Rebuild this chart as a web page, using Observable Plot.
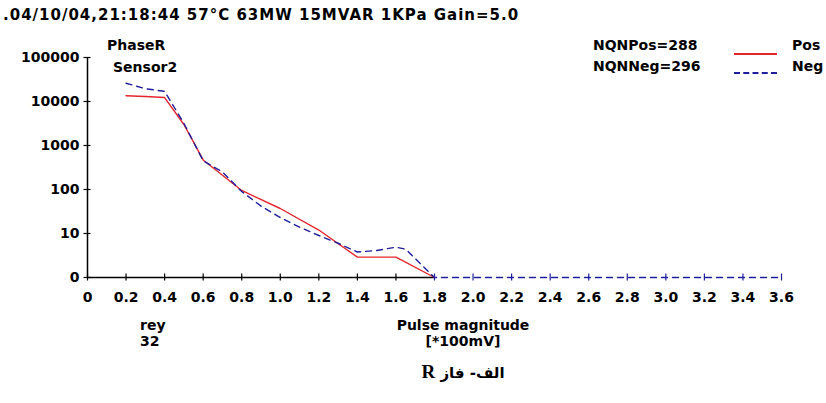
<!DOCTYPE html>
<html>
<head>
<meta charset="utf-8">
<script src="https://cdn.jsdelivr.net/npm/d3@7"></script>
<script src="https://cdn.jsdelivr.net/npm/@observablehq/plot@0.6"></script>
<style>
  html, body { margin: 0; padding: 0; background: #fff; }
  #wrap { position: relative; width: 826px; height: 403px; overflow: hidden; }
  #wrap svg { position: absolute; left: 0; top: 0; }
  .t { position: absolute; font-family: "DejaVu Sans", sans-serif; font-weight: bold; font-size: 14px; line-height: 1; white-space: nowrap; color: #000; }
  .c { transform: translateX(-50%); }
</style>
</head>
<body>
<div id="wrap"></div>
<script>
// ---- data ----
const titleText = ".04/10/04,21:18:44 57°C 63MW 15MVAR 1KPa Gain=5.0";
const phaseLabel = "PhaseR";
const sensorLabel = "Sensor2";
const nqnPos = "NQNPos=288";
const nqnNeg = "NQNNeg=296";
const seriesNames = ["Pos", "Neg"];
const xLabel1 = "Pulse magnitude";
const xLabel2 = "[*100mV]";
const cornerLabel1 = "rey";
const cornerLabel2 = "32";
const captionText = "الف- فاز ";
const captionLetter = "R";

const posX = [0.2, 0.3, 0.4, 0.5, 0.6, 0.8, 1.0, 1.2, 1.4, 1.6, 1.8];
const posY = [13500, 13000, 12300, 3000, 470, 95, 37, 12, 2.9, 2.9, 0];

const negX = [0.2, 0.3, 0.4, 0.5, 0.6, 0.7, 0.8, 0.9, 1.0, 1.1, 1.2, 1.3, 1.4, 1.5, 1.6, 1.65, 1.8, 2.0, 2.2, 2.4, 2.6, 2.8, 3.0, 3.2, 3.4, 3.6];
const negY = [26000, 19500, 17000, 3200, 450, 250, 90, 42, 23, 14, 9, 6, 3.8, 4.1, 4.9, 4.4, 0, 0, 0, 0, 0, 0, 0, 0, 0, 0];

const xTicks = [0, 0.2, 0.4, 0.6, 0.8, 1.0, 1.2, 1.4, 1.6, 1.8, 2.0, 2.2, 2.4, 2.6, 2.8, 3.0, 3.2, 3.4, 3.6];
const yTicks = [1, 10, 100, 1000, 10000, 100000];

// ---- build ----
const RED = "#e3262c";
const NAVY = "#1f1f9e";
const floor1 = v => Math.max(v, 1);
const pos = posX.map((x, i) => ({x, y: floor1(posY[i])}));
const neg = negX.map((x, i) => ({x, y: floor1(negY[i])}));
const posEnd = d3.max(posX);
const blackTicks = xTicks.filter(t => t < posEnd);
const blueTicks = xTicks.filter(t => t >= posEnd);

const chart = Plot.plot({
  width: 826,
  height: 403,
  marginLeft: 87,
  marginRight: 45,
  marginTop: 57,
  marginBottom: 126,
  style: {fontFamily: "DejaVu Sans, sans-serif", fontWeight: "bold", fontSize: "14px", background: "#fff", color: "#000"},
  x: {domain: [0, 3.6], axis: null, label: null},
  y: {type: "log", domain: [1, 100000], axis: null, label: null},
  marks: [
    // axis lines
    Plot.ruleX([0], {stroke: "#000", strokeWidth: 1.5}),
    Plot.ruleY([1], {x1: 0, x2: posEnd, stroke: "#000", strokeWidth: 1.5}),
    // y ticks crossing axis
    Plot.axisY({ticks: yTicks, label: null, tickSize: 7, dx: 3.5, tickFormat: () => "", stroke: "#000", strokeWidth: 1.2}),
    Plot.axisY({ticks: yTicks, label: null, tickSize: 0, tickPadding: 8, tickFormat: d => d === 1 ? "0" : String(d), fontSize: 14, fill: "#000"}),
    // x ticks crossing axis
    Plot.axisX({ticks: blackTicks, label: null, tickSize: 7, dy: -3.5, tickFormat: () => "", stroke: "#000", strokeWidth: 1.2}),
    Plot.axisX({ticks: blueTicks, label: null, tickSize: 7, dy: -3.5, tickFormat: () => "", stroke: NAVY, strokeWidth: 1.2}),
    Plot.axisX({ticks: xTicks, label: null, tickSize: 0, tickPadding: 15, tickFormat: d => d === 0 ? "0" : d.toFixed(1), fontSize: 14, fill: "#000"}),
    // series
    Plot.line(pos, {x: "x", y: "y", stroke: RED, strokeWidth: 1.4}),
    Plot.line(neg, {x: "x", y: "y", stroke: NAVY, strokeWidth: 1.4, strokeDasharray: "6,5"})
  ]
});

const wrap = document.getElementById("wrap");
wrap.appendChild(chart);

function addText(txt, left, top, extra = {}, cls = "t") {
  const d = document.createElement("div");
  d.className = cls;
  d.textContent = txt;
  d.style.left = left + "px";
  d.style.top = top + "px";
  Object.assign(d.style, extra);
  wrap.appendChild(d);
  return d;
}

addText(titleText, 3, 8, {letterSpacing: "1px", fontSize: "15px"});
addText(phaseLabel, 107, 38);
addText(sensorLabel, 113, 60);
addText(nqnPos, 593, 38);
addText(nqnNeg, 593, 59);
addText(seriesNames[0], 792, 38);
addText(seriesNames[1], 792, 59);
addText(cornerLabel1, 140, 318);
addText(cornerLabel2, 140, 334);
addText(xLabel1, 463, 318, {}, "t c");
addText(xLabel2, 463, 334, {}, "t c");

// legend swatches
const sw1 = document.createElement("div");
Object.assign(sw1.style, {position: "absolute", left: "734px", top: "53px", width: "43px", height: "0", borderTop: `2px solid ${RED}`});
wrap.appendChild(sw1);
const sw2 = document.createElement("div");
Object.assign(sw2.style, {position: "absolute", left: "734px", top: "72px", width: "43px", height: "0", borderTop: `2px dashed ${NAVY}`});
wrap.appendChild(sw2);

// caption
const cap = document.createElement("div");
cap.className = "c";
Object.assign(cap.style, {position: "absolute", left: "463px", top: "362px", direction: "rtl", whiteSpace: "nowrap", fontFamily: "\"DejaVu Sans\", sans-serif", fontWeight: "bold", fontSize: "15px", lineHeight: "1"});
cap.appendChild(document.createTextNode(captionText));
const r = document.createElement("span");
r.textContent = captionLetter;
Object.assign(r.style, {fontFamily: "\"Liberation Serif\", serif", fontSize: "19px", fontWeight: "bold"});
cap.appendChild(r);
wrap.appendChild(cap);
</script>
</body>
</html>
